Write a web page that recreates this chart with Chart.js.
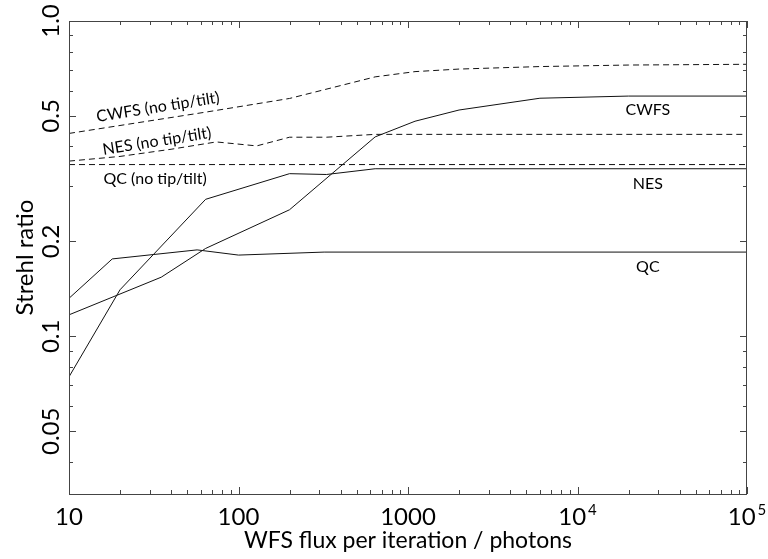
<!DOCTYPE html>
<html>
<head>
<meta charset="utf-8">
<script src="https://cdn.jsdelivr.net/npm/chart.js@4.4.1/dist/chart.umd.min.js"></script>
<style>
  html, body { margin: 0; padding: 0; background: #fff; }
  #wrap { width: 768px; height: 559px; position: relative; }
</style>
</head>
<body>
<div id="wrap"><canvas id="c"></canvas></div>
<script>
// WFS flux per iteration (photons) vs Strehl ratio
var cwfsFlux   = [10, 35, 64, 200, 640, 1100, 2000, 6000, 20000, 100000];
var cwfsStrehl = [0.117, 0.154, 0.190, 0.252, 0.429, 0.481, 0.522, 0.569, 0.578, 0.578];

var nesFlux   = [10, 20, 64, 200, 330, 640, 100000];
var nesStrehl = [0.0744, 0.1405, 0.272, 0.328, 0.326, 0.340, 0.340];

var qcFlux   = [10, 18, 57, 100, 320, 100000];
var qcStrehl = [0.132, 0.176, 0.188, 0.181, 0.185, 0.185];

var cwfsNoTTFlux   = [10, 64, 200, 640, 1100, 2000, 6000, 20000, 100000];
var cwfsNoTTStrehl = [0.440, 0.514, 0.568, 0.665, 0.691, 0.704, 0.717, 0.725, 0.729];

var nesNoTTFlux   = [10, 20, 40, 74, 128, 200, 330, 640, 100000];
var nesNoTTStrehl = [0.3595, 0.372, 0.392, 0.4135, 0.4017, 0.428, 0.428, 0.437, 0.437];

var qcNoTTFlux   = [10, 100000];
var qcNoTTStrehl = [0.3505, 0.3505];

// axis ticks
var xTickValues = [10, 100, 1000, 10000, 100000];
var xTickLabels = [['10'], ['100'], ['1000'], ['10', '4'], ['10', '5']];
var yTickValues = [1, 0.5, 0.2, 0.1, 0.05];
var yTickLabels = ['1.0', '0.5', '0.2', '0.1', '0.05'];

// curve names, anchored in data units
var labelText  = ['CWFS (no tip/tilt)', 'NES (no tip/tilt)', 'QC (no tip/tilt)', 'CWFS', 'NES', 'QC'];
var labelFlux  = [33.5, 33, 32.2, 26000, 26000, 26000];
var labelValue = [0.533, 0.4157, 0.315, 0.522, 0.3056, 0.1665];
var labelAngle = [-9, -9, 0, 0, 0, 0];

function pts(xs, ys) {
  return xs.map(function (x, i) { return {x: x, y: ys[i]}; });
}

function series(xs, ys, dashed) {
  return {
    data: pts(xs, ys),
    borderColor: '#111',
    borderWidth: 1,
    borderDash: dashed ? [6, 4] : [],
    pointRadius: 0,
    tension: 0,
    fill: false
  };
}

var FONT = 'Lato, "Open Sans", sans-serif';

var frame = {
  id: 'frame',
  afterDatasetsDraw: function (chart) {
    var ctx = chart.ctx, a = chart.chartArea;
    var xs = chart.scales.x, ys = chart.scales.y;
    ctx.save();
    ctx.strokeStyle = '#444';
    ctx.lineWidth = 1;
    ctx.strokeRect(a.left + 0.5, a.top + 0.5, a.right - a.left - 1, a.bottom - a.top);

    function xTick(v, len) {
      var p = Math.round(xs.getPixelForValue(v)) + 0.5;
      ctx.beginPath();
      ctx.moveTo(p, a.bottom); ctx.lineTo(p, a.bottom - len);
      ctx.moveTo(p, a.top); ctx.lineTo(p, a.top + len);
      ctx.stroke();
    }
    function yTick(v, len) {
      var p = Math.round(ys.getPixelForValue(v)) + 0.5;
      ctx.beginPath();
      ctx.moveTo(a.left, p); ctx.lineTo(a.left + len, p);
      ctx.moveTo(a.right, p); ctx.lineTo(a.right - len, p);
      ctx.stroke();
    }

    // minor ticks at 2..9 of every decade
    var d, k, v;
    for (d = 1; d < 5; d++) {
      for (k = 2; k < 10; k++) xTick(k * Math.pow(10, d), 4);
    }
    for (d = -2; d < 0; d++) {
      for (k = 2; k < 10; k++) {
        v = k * Math.pow(10, d);
        if (v < ys.min || v > ys.max) continue;
        if (yTickValues.some(function (t) { return Math.abs(t - v) < 1e-9; })) continue;
        yTick(v, 4);
      }
    }
    xTickValues.forEach(function (t) { xTick(t, 7); });
    yTickValues.forEach(function (t) { yTick(t, 7); });

    ctx.fillStyle = '#000';

    // x tick labels; powers get a superscript, whole group centred on the tick
    ctx.textBaseline = 'alphabetic';
    xTickValues.forEach(function (t, i) {
      var p = xs.getPixelForValue(t);
      var lab = xTickLabels[i];
      ctx.font = '24px ' + FONT;
      if (lab.length === 1) {
        ctx.textAlign = 'center';
        ctx.fillText(lab[0], p, a.bottom + 31);
        return;
      }
      var w = ctx.measureText(lab[0]).width;
      ctx.font = '15px ' + FONT;
      var ws = ctx.measureText(lab[1]).width;
      var x0 = p - (w + 2 + ws) / 2;
      ctx.textAlign = 'left';
      ctx.fillText(lab[1], x0 + w + 2, a.bottom + 21);
      ctx.font = '24px ' + FONT;
      ctx.fillText(lab[0], x0, a.bottom + 31);
    });

    // y tick labels, rotated
    ctx.font = '24px ' + FONT;
    ctx.textAlign = 'center';
    yTickValues.forEach(function (t, i) {
      var p = ys.getPixelForValue(t);
      ctx.save();
      ctx.translate(a.left - 10, p);
      ctx.rotate(-Math.PI / 2);
      ctx.fillText(yTickLabels[i], 0, 0);
      ctx.restore();
    });

    // axis titles
    ctx.font = '23px ' + FONT;
    ctx.fillText('WFS flux per iteration / photons', (a.left + a.right) / 2, a.bottom + 54);
    ctx.save();
    ctx.font = '24px ' + FONT;
    ctx.translate(33, (a.top + a.bottom) / 2);
    ctx.rotate(-Math.PI / 2);
    ctx.fillText('Strehl ratio', 0, 0);
    ctx.restore();

    // curve labels
    ctx.font = '16px ' + FONT;
    ctx.textBaseline = 'middle';
    labelText.forEach(function (s, i) {
      ctx.save();
      ctx.translate(xs.getPixelForValue(labelFlux[i]), ys.getPixelForValue(labelValue[i]));
      ctx.rotate(labelAngle[i] * Math.PI / 180);
      ctx.fillText(s, 0, 0);
      ctx.restore();
    });
    ctx.restore();
  }
};

new Chart(document.getElementById('c'), {
  type: 'line',
  data: {
    datasets: [
      series(cwfsFlux, cwfsStrehl, false),
      series(nesFlux, nesStrehl, false),
      series(qcFlux, qcStrehl, false),
      series(cwfsNoTTFlux, cwfsNoTTStrehl, true),
      series(nesNoTTFlux, nesNoTTStrehl, true),
      series(qcNoTTFlux, qcNoTTStrehl, true)
    ]
  },
  options: {
    responsive: true,
    maintainAspectRatio: false,
    animation: false,
    layout: { padding: { left: 69, right: 21, top: 21, bottom: 65 } },
    plugins: { legend: { display: false }, tooltip: { enabled: false } },
    scales: {
      x: { type: 'logarithmic', min: 10, max: 100000, display: false },
      y: { type: 'logarithmic', min: Math.pow(10, -1.5), max: 1, display: false }
    }
  },
  plugins: [frame]
});
</script>
</body>
</html>
